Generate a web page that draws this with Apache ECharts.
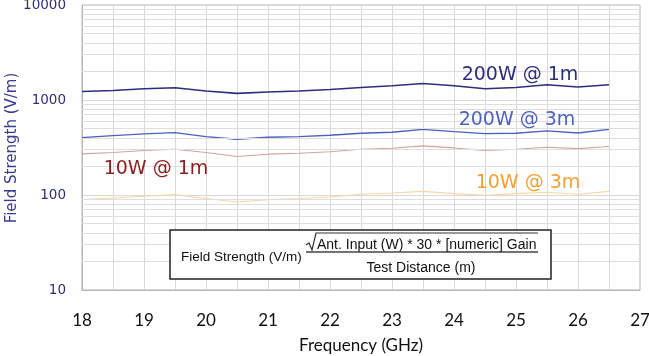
<!DOCTYPE html>
<html><head><meta charset="utf-8">
<script src="https://cdn.jsdelivr.net/npm/echarts@6/dist/echarts.min.js"></script>
<style>html,body{margin:0;padding:0;background:#fff}#c{width:649px;height:356px}</style>
</head><body><div id="c"></div>
<script>
const frequencies = [18,18.5,19,19.5,20,20.5,21,21.5,22,22.5,23,23.5,24,24.5,25,25.5,26,26.5];
const w200at1m = [1231,1261,1314,1346,1243,1173,1213,1243,1292,1356,1413,1494,1413,1314,1356,1447,1369,1447];
const w200at3m = [402,422,440,454,412,386,405,412,425,446,457,491,465,443,446,473,450,491];
const w10at1m = [271,280,294,303,280,254,269,275,285,303,311,329,313,294,303,318,308,324];
const w10at3m = [89.5,93,96.9,101,91.7,84.4,89.5,91.7,95.3,101.7,105,109.3,103.4,99.3,103.4,106.7,101.7,109.3];
const seriesNames = ['200W @ 1m','200W @ 3m','10W @ 1m','10W @ 3m'];
const minorGridValues = [20,30,40,50,60,70,80,90,200,300,400,500,600,700,800,900,2000,3000,4000,5000,6000,7000,8000,9000];
const yTitle = 'Field Strength (V/m)';
const formulaLeft = 'Field Strength (V/m)';
const formulaNum = 'Ant. Input (W) * 30 * [numeric] Gain';
const formulaDen = 'Test Distance (m)';

const pairs = arr => frequencies.map((f,i)=>[f,arr[i]]);
const chart = echarts.init(document.getElementById('c'), null, {renderer:'canvas'});
const lineSeries = (name, arr, color, width) => ({
  name, type:'line', data: pairs(arr), showSymbol:false, symbol:'none', z:3,
  lineStyle:{color, width}, itemStyle:{color}
});
const labelFont = '"DejaVu Sans", sans-serif';
const axisFont = 'Lato, sans-serif';
const fFont = '14px "Liberation Sans", sans-serif';
chart.setOption({
  animation:false,
  grid:{left:82,right:9,top:5,bottom:66,containLabel:false,outerBoundsMode:'none',show:true,borderColor:'#b5b5b5',borderWidth:1,backgroundColor:'transparent'},
  xAxis:{type:'value',min:18,max:27,interval:1,
    name:'Frequency (GHz)',nameLocation:'middle',nameGap:47,
    nameTextStyle:{color:'#111',fontSize:17,fontFamily:axisFont},
    axisLine:{show:true,lineStyle:{color:'#b5b5b5'}},axisTick:{show:false},
    axisLabel:{color:'#111',fontSize:17,margin:22,fontFamily:axisFont},
    splitLine:{show:true,lineStyle:{color:'#d9d9d9'}},
    minorTick:{show:false,splitNumber:2},
    minorSplitLine:{show:true,lineStyle:{color:'#d9d9d9'}}
  },
  yAxis:{type:'log',logBase:10,min:10,max:10000,
    axisLine:{show:true,lineStyle:{color:'#b5b5b5'}},axisTick:{show:false},
    axisLabel:{color:'#2e2e7e',fontSize:13.5,margin:16,fontFamily:labelFont,formatter:v=>String(Math.round(v))},
    splitLine:{show:true,lineStyle:{color:'#d9d9d9'}}
  },
  series:[
    {type:'line',data:pairs(w10at3m),z:1,silent:true,showSymbol:false,symbol:'none',lineStyle:{opacity:0},
      markLine:{silent:true,symbol:'none',animation:false,label:{show:false},
        lineStyle:{color:'#dedede',type:'solid',width:1},
        data:minorGridValues.map(v=>({yAxis:v}))}},
    lineSeries(seriesNames[0], w200at1m, '#2d2d7d', 1.6),
    lineSeries(seriesNames[1], w200at3m, '#4a60be', 1.4),
    lineSeries(seriesNames[2], w10at1m, '#d2a39c', 1.1),
    lineSeries(seriesNames[3], w10at3m, '#f6d8a4', 1.1)
  ],
  graphic:[
    {type:'text',x:12,y:148,rotation:Math.PI/2,z:10,style:{text:yTitle,fill:'#3a3a8c',font:'15px '+labelFont,textAlign:'center',textVerticalAlign:'middle'}},
    {type:'text',x:520,y:75,z:10,style:{text:seriesNames[0],fill:'#2e2e7a',font:'19px '+labelFont,textAlign:'center',textVerticalAlign:'middle'}},
    {type:'text',x:517,y:120,z:10,style:{text:seriesNames[1],fill:'#4d63c0',font:'19px '+labelFont,textAlign:'center',textVerticalAlign:'middle'}},
    {type:'text',x:156,y:169,z:10,style:{text:seriesNames[2],fill:'#8b1e1e',font:'19px '+labelFont,textAlign:'center',textVerticalAlign:'middle'}},
    {type:'text',x:528,y:183,z:10,style:{text:seriesNames[3],fill:'#f5a030',font:'19px '+labelFont,textAlign:'center',textVerticalAlign:'middle'}},
    {type:'rect',z:10,shape:{x:170,y:230,width:381,height:49},style:{fill:'#fff',stroke:'#222',lineWidth:1.5}},
    {type:'text',z:11,x:181,y:257,style:{text:formulaLeft,fill:'#111',font:'13.5px "Liberation Sans", sans-serif',textVerticalAlign:'middle'}},
    {type:'polyline',z:11,shape:{points:[[306,245],[309,243],[312,250],[316,233],[538,233]]},style:{stroke:'#333',lineWidth:1.2,fill:null}},
    {type:'text',z:11,x:317,y:245,style:{text:formulaNum,fill:'#111',font:fFont,textVerticalAlign:'middle'}},
    {type:'line',z:11,shape:{x1:306,y1:252,x2:538,y2:252},style:{stroke:'#444',lineWidth:1.5}},
    {type:'text',z:11,x:421,y:268,style:{text:formulaDen,fill:'#111',font:fFont,textAlign:'center',textVerticalAlign:'middle'}}
  ]
});
</script></body></html>
